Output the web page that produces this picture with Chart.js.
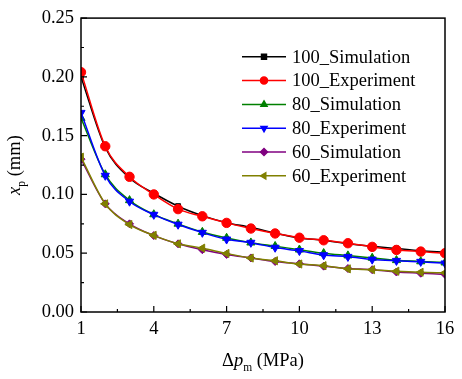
<!DOCTYPE html>
<html>
<head>
<meta charset="utf-8">
<script src="https://cdn.jsdelivr.net/npm/chart.js@4.4.0/dist/chart.umd.min.js"></script>
<style>
html,body{margin:0;padding:0;background:#fff;}
#wrap{width:462px;height:379px;position:relative;}
</style>
</head>
<body>
<div id="wrap"><canvas id="c" width="462" height="379"></canvas></div>
<script>
const pressures = [1,2,3,4,5,6,7,8,9,10,11,12,13,14,15,16];
const sim100 = [0.200,0.140,0.114,0.101,0.090,0.082,0.076,0.072,0.067,0.063,0.061,0.058,0.056,0.054,0.052,0.051];
const exp100 = [0.204,0.141,0.115,0.100,0.0875,0.0814,0.0758,0.071,0.0668,0.0632,0.061,0.0585,0.0554,0.0528,0.0514,0.050];
const sim80  = [0.165,0.117,0.095,0.083,0.075,0.068,0.063,0.059,0.056,0.053,0.050,0.048,0.046,0.044,0.043,0.042];
const exp80  = [0.1695,0.116,0.094,0.0828,0.0744,0.0675,0.0618,0.059,0.0548,0.052,0.0484,0.047,0.0447,0.0436,0.0428,0.0414];
const sim60  = [0.130,0.092,0.075,0.065,0.058,0.053,0.049,0.046,0.043,0.041,0.039,0.037,0.036,0.034,0.033,0.032];
const exp60  = [0.1317,0.092,0.0744,0.0652,0.058,0.0543,0.0498,0.0459,0.0436,0.0408,0.0394,0.0367,0.036,0.0347,0.0338,0.0333];
const seriesNames = ['100_Simulation','100_Experiment','80_Simulation','80_Experiment','60_Simulation','60_Experiment'];
const xTickValues = [1,4,7,10,13,16];
const xMinorValues = [2.5,5.5,8.5,11.5,14.5];
const yTickValues = [0,0.05,0.10,0.15,0.20,0.25];
const yMinorValues = [0.025,0.075,0.125,0.175,0.225];

const FONT = '"Liberation Serif","Times New Roman",serif';
const styles = [
  {c:'#000000', p:'rect', r:0, rad:3.5, order:5},
  {c:'#ff0000', p:'circle', r:0, rad:4.7, order:4},
  {c:'#008000', p:'triangle', r:0, rad:4.7, order:3},
  {c:'#0000ff', p:'triangle', r:180, rad:4.7, order:2},
  {c:'#800080', p:'rectRot', r:0, rad:4, order:1},
  {c:'#808000', p:'triangle', r:-90, rad:4.7, order:0}
];
const allData = [sim100,exp100,sim80,exp80,sim60,exp60];

const datasets = allData.map((arr,i)=>({
  label: seriesNames[i],
  data: arr.map((v,j)=>({x:pressures[j], y:v})),
  borderColor: styles[i].c,
  backgroundColor: styles[i].c,
  pointStyle: styles[i].p,
  pointRotation: styles[i].r,
  pointRadius: styles[i].rad,
  pointBorderWidth: 1,
  borderWidth: 1.5,
  tension: 0.4,
  cubicInterpolationMode: 'monotone',
  order: styles[i].order
}));

const framePlugin = {
  id: 'frame',
  afterDraw(chart){
    const ctx = chart.ctx, a = chart.chartArea;
    const xs = chart.scales.x, ys = chart.scales.y;
    ctx.save();
    ctx.strokeStyle = '#000'; ctx.lineWidth = 1.5;
    ctx.strokeRect(a.left, a.top, a.right-a.left, a.bottom-a.top);
    ctx.lineWidth = 1.2;
    ctx.beginPath();
    xTickValues.forEach(v=>{const px=xs.getPixelForValue(v); ctx.moveTo(px,a.bottom); ctx.lineTo(px,a.bottom-6);});
    xMinorValues.forEach(v=>{const px=xs.getPixelForValue(v); ctx.moveTo(px,a.bottom); ctx.lineTo(px,a.bottom-3);});
    yTickValues.forEach(v=>{const py=ys.getPixelForValue(v); ctx.moveTo(a.left,py); ctx.lineTo(a.left+6,py);});
    yMinorValues.forEach(v=>{const py=ys.getPixelForValue(v); ctx.moveTo(a.left,py); ctx.lineTo(a.left+3,py);});
    ctx.stroke();

    ctx.fillStyle = '#000';
    ctx.textBaseline = 'alphabetic';
    const fs = 18.5;
    const parts = [
      {t:'\u0394', f:`${fs}px ${FONT}`, dy:0},
      {t:'p', f:`italic ${fs}px ${FONT}`, dy:0},
      {t:'m', f:`${fs*0.62}px ${FONT}`, dy:5},
      {t:' (MPa)', f:`${fs}px ${FONT}`, dy:0}
    ];
    let w = 0;
    parts.forEach(p=>{ctx.font=p.f; p.w=ctx.measureText(p.t).width; w+=p.w;});
    let x = (a.left+a.right)/2 - w/2; const by = 366;
    parts.forEach(p=>{ctx.font=p.f; ctx.fillText(p.t, x, by+p.dy); x+=p.w;});
    ctx.save();
    ctx.translate(20, (a.top+a.bottom)/2);
    ctx.rotate(-Math.PI/2);
    const yp = [
      {t:'x', f:`italic ${fs}px ${FONT}`, dy:0},
      {t:'p', f:`${fs*0.62}px ${FONT}`, dy:5},
      {t:' (mm)', f:`${fs}px ${FONT}`, dy:0}
    ];
    w = 0;
    yp.forEach(p=>{ctx.font=p.f; p.w=ctx.measureText(p.t).width; w+=p.w;});
    x = -w/2;
    yp.forEach(p=>{ctx.font=p.f; ctx.fillText(p.t, x, 0+p.dy); x+=p.w;});
    ctx.restore();

    const lx0 = 242, lx1 = 286, tx = 292;
    const rows = [56.8, 80.6, 104.4, 128.2, 152.0, 175.8];
    chart.data.datasets.forEach((ds,i)=>{
      const y = rows[i];
      ctx.strokeStyle = ds.borderColor; ctx.lineWidth = 1.5;
      ctx.beginPath(); ctx.moveTo(lx0,y); ctx.lineTo(lx1,y); ctx.stroke();
      ctx.fillStyle = ds.backgroundColor;
      Chart.helpers.drawPoint(ctx, {pointStyle: ds.pointStyle, rotation: ds.pointRotation, radius: 3.5, borderWidth: 1}, (lx0+lx1)/2, y);
      ctx.fillStyle = '#000';
      ctx.font = `${fs}px ${FONT}`;
      ctx.textBaseline = 'middle';
      ctx.fillText(ds.label, tx, y+1);
    });
    ctx.restore();
  }
};

new Chart(document.getElementById('c'), {
  type: 'line',
  data: { datasets },
  options: {
    responsive: false,
    animation: false,
    devicePixelRatio: 1,
    layout: { padding: {left:0, top:14, right:17, bottom:0} },
    plugins: { legend:{display:false}, tooltip:{enabled:false} },
    scales: {
      x: {
        type: 'linear', min: 1, max: 16,
        afterFit(s){ s.height = 67; },
        afterBuildTicks(s){ s.ticks = xTickValues.map(v=>({value:v})); },
        ticks: { padding: 6, color:'#000', font:{family:FONT, size:18.5}, callback:v=>String(v), maxRotation:0, autoSkip:false },
        grid: { display:false, drawTicks:false },
        border: { display:false }
      },
      y: {
        type: 'linear', min: 0, max: 0.25,
        afterFit(s){ s.width = 81; },
        afterBuildTicks(s){ s.ticks = yTickValues.map(v=>({value:v})); },
        ticks: { padding: 7, color:'#000', font:{family:FONT, size:18.5}, callback:v=>Number(v).toFixed(2), autoSkip:false },
        grid: { display:false, drawTicks:false },
        border: { display:false }
      }
    }
  },
  plugins: [framePlugin]
});
</script>
</body>
</html>
